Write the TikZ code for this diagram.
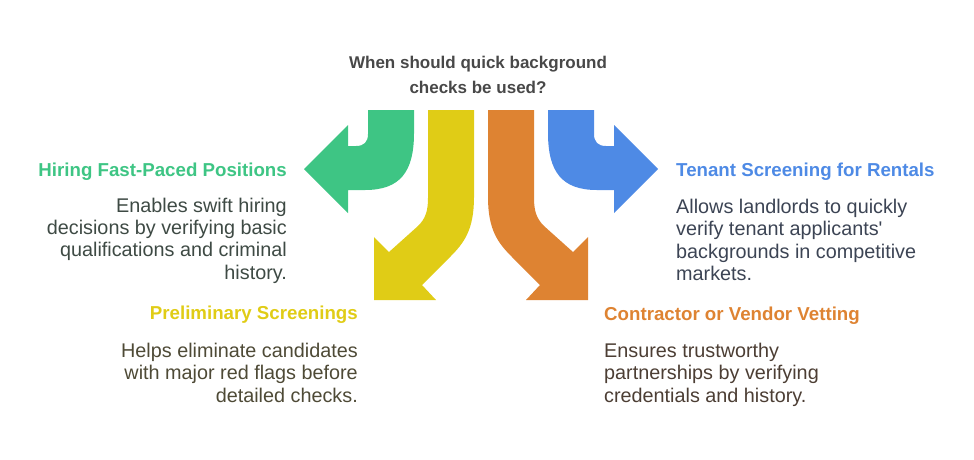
\documentclass[tikz,border=0pt]{standalone}
\usepackage{fontspec}
\setmainfont{Liberation Sans}
\definecolor{hirgreen}{RGB}{62,197,132}
\definecolor{tenblue}{RGB}{78,138,229}
\definecolor{preyellow}{RGB}{224,204,22}
\definecolor{conorange}{RGB}{222,131,50}
\definecolor{qgray}{RGB}{72,72,72}
\definecolor{hirtext}{RGB}{62,74,68}
\definecolor{tentext}{RGB}{60,68,84}
\definecolor{pretext}{RGB}{78,74,54}
\definecolor{context}{RGB}{76,62,52}
\tikzset{
  head/.style={font=\fontsize{18.7}{22}\selectfont\bfseries, inner sep=0pt},
  body/.style={font=\fontsize{19.8}{22.4}\selectfont, inner sep=0pt},
}
\begin{document}
\begin{tikzpicture}[x=1pt,y=-1pt]
  \useasboundingbox (0,0) rectangle (974,459);
  \foreach \s/\c in {1/hirgreen,-1/tenblue} {
    \fill[\c, shift={(481,0)}, xscale=\s] (-113,110) -- (-67,110) -- (-67,133)
      .. controls (-67,172) and (-81,190) .. (-116,190) -- (-133,190) -- (-133,213)
      -- (-177,169) -- (-133,125) -- (-133,146) -- (-125,146)
      .. controls (-117,146) and (-113,142) .. (-113,134) -- cycle;
  }
  \foreach \s/\c in {1/preyellow,-1/conorange} {
    \fill[\c, shift={(481,0)}, xscale=\s] (-53,110) -- (-7,110) -- (-7,197)
      .. controls (-7,230) and (-17,243) .. (-31,257) -- (-59,285) -- (-45,300)
      -- (-107,300) -- (-107,237) -- (-92,252) -- (-63,226)
      .. controls (-56,219) and (-53,212) .. (-53,198) -- cycle;
  }
  \node[font=\fontsize{17}{25}\selectfont\bfseries, text=qgray, align=center, inner sep=0pt, anchor=north] (q) at (478,56)
    {When should quick background\\checks be used?};
  \node[head, text=hirgreen, anchor=base east] (hirT) at (287,176) {Hiring Fast-Paced Positions};
  \node[body, text=hirtext, align=right, anchor=north east] (hirB) at (287,197.5)
    {Enables swift hiring\\decisions by verifying basic\\qualifications and criminal\\history.};
  \node[head, text=tenblue, anchor=base west] (tenT) at (676,176) {Tenant Screening for Rentals};
  \node[body, text=tentext, align=left, anchor=north west] (tenB) at (676,199)
    {Allows landlords to quickly\\verify tenant applicants\textquotesingle\\backgrounds in competitive\\markets.};
  \node[head, text=preyellow, anchor=base east] (preT) at (358,319.5) {Preliminary Screenings};
  \node[body, text=pretext, align=right, anchor=north east] (preB) at (358,343)
    {Helps eliminate candidates\\with major red flags before\\detailed checks.};
  \node[head, text=conorange, anchor=base west] (conT) at (604,320.5) {Contractor or Vendor Vetting};
  \node[body, text=context, align=left, anchor=north west] (conB) at (604,343)
    {Ensures trustworthy\\partnerships by verifying\\credentials and history.};
\end{tikzpicture}
\end{document}
